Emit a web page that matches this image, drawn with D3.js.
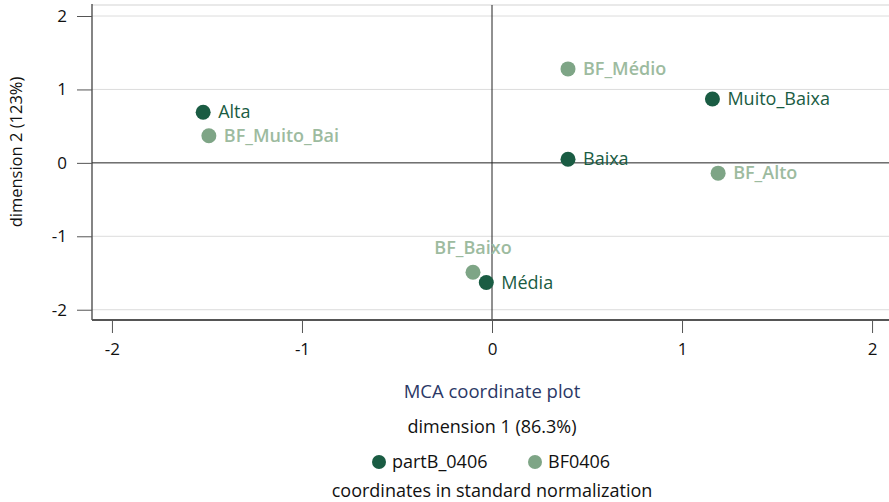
<!DOCTYPE html>
<html><head><meta charset="utf-8">
<script src="https://cdn.jsdelivr.net/npm/d3@7"></script>
<style>body{margin:0;background:#fff}svg{display:block;font-family:"Open Sans",sans-serif}</style>
</head><body>
<svg id="c" width="889" height="502"></svg>
<script>
const series = ["partB_0406", "BF0406"];
const seriesColors = ["#1a5c43", "#7ea586"];
const labelColors = ["#1a5c43", "#9dbb9f"];
const labels = ["Alta", "Baixa", "Muito_Baixa", "Média", "BF_Alto", "BF_Baixo", "BF_Médio", "BF_Muito_Bai"];
const group  = [0, 0, 0, 0, 1, 1, 1, 1];
const dim1   = [-1.52, 0.40, 1.16, -0.03, 1.19, -0.10, 0.40, -1.49];
const dim2   = [0.69, 0.05, 0.87, -1.63, -0.14, -1.49, 1.28, 0.37];
const labelPos = [3, 3, 3, 3, 3, 12, 3, 3];
const xTicks = [-2, -1, 0, 1, 2];
const yTicks = [-2, -1, 0, 1, 2];

const svg = d3.select("#c");
const L = 92, R = 892, T = 5, B = 320;
const x = d3.scaleLinear().domain([-2.105, 2.105]).range([L, R]);
const y = d3.scaleLinear().domain([-2.14, 2.15]).range([B, T]);
const fmt = d => String(d);

svg.append("line").attr("x1", L).attr("x2", 889).attr("y1", T).attr("y2", T).attr("stroke", "#e2e2e2").attr("stroke-width", 1.5);
svg.append("g").selectAll("line").data(yTicks.filter(d => d !== 0)).join("line")
  .attr("x1", L).attr("x2", 889).attr("y1", d => y(d)).attr("y2", d => y(d))
  .attr("stroke", "#dcdcdc").attr("stroke-width", 1);
svg.append("line").attr("x1", L).attr("x2", 889).attr("y1", y(0)).attr("y2", y(0)).attr("stroke", "#222").attr("stroke-width", 1);
svg.append("line").attr("x1", x(0)).attr("x2", x(0)).attr("y1", T).attr("y2", B).attr("stroke", "#222").attr("stroke-width", 1);

const yAxis = d3.axisLeft(y).tickValues(yTicks).tickSize(15).tickPadding(10).tickFormat(fmt);
const gy = svg.append("g").attr("transform", `translate(${L},0)`).call(yAxis);
gy.select(".domain").attr("stroke", "#333").attr("stroke-width", 1.2).attr("d", `M0,${T-1}V${B}`);
gy.selectAll(".tick line").attr("stroke", "#555");
gy.selectAll(".tick text").attr("font-size", 17).attr("fill", "#111").attr("font-family", "Open Sans");

const xAxis = d3.axisBottom(x).tickValues(xTicks).tickSize(13).tickPadding(10).tickFormat(fmt);
const gx = svg.append("g").attr("transform", `translate(0,${B})`).call(xAxis);
gx.select(".domain").attr("stroke", "#555").attr("stroke-width", 2).attr("d", `M${L},0H889`);
gx.selectAll(".tick line").attr("stroke", "#555");
gx.selectAll(".tick text").attr("font-size", 17).attr("fill", "#111").attr("font-family", "Open Sans");

const pts = labels.map((l, i) => ({l, g: group[i], x: dim1[i], y: dim2[i], p: labelPos[i]}));
const order = [6, 7, 4, 5, 0, 1, 2, 3];
svg.append("g").selectAll("circle").data(order.map(i => pts[i])).join("circle")
  .attr("cx", d => x(d.x)).attr("cy", d => y(d.y)).attr("r", 7.5)
  .attr("fill", d => seriesColors[d.g]);
svg.append("g").selectAll("text").data(pts).join("text")
  .attr("x", d => d.p === 12 ? x(d.x) : x(d.x) + 15)
  .attr("y", d => d.p === 12 ? y(d.y) - 18 : y(d.y) + 6)
  .attr("text-anchor", d => d.p === 12 ? "middle" : "start")
  .attr("font-size", 18)
  .attr("font-weight", d => d.g === 1 ? 600 : 400)
  .attr("fill", d => labelColors[d.g])
  .text(d => d.l);

svg.append("text").attr("transform", "translate(22,152) rotate(-90)").attr("text-anchor", "middle")
  .attr("font-size", 16.5).attr("fill", "#111").text("dimension 2 (123%)");

const cx = 492;
svg.append("text").attr("x", cx).attr("y", 398).attr("text-anchor", "middle").attr("font-size", 18.5).attr("fill", "#2b3866").text("MCA coordinate plot");
svg.append("text").attr("x", cx).attr("y", 433).attr("text-anchor", "middle").attr("font-size", 18).attr("fill", "#111").text("dimension 1 (86.3%)");
svg.append("text").attr("x", cx).attr("y", 497).attr("text-anchor", "middle").attr("font-size", 18).attr("fill", "#111").text("coordinates in standard normalization");

const legX = [379, 535];
const lg = svg.append("g").selectAll("g").data(series).join("g").attr("transform", (d, i) => `translate(${legX[i]},462)`);
lg.append("circle").attr("r", 7).attr("fill", (d, i) => seriesColors[i]);
lg.append("text").attr("x", 13).attr("y", 6).attr("font-size", 18).attr("fill", "#111").text(d => d);
</script>
</body></html>
